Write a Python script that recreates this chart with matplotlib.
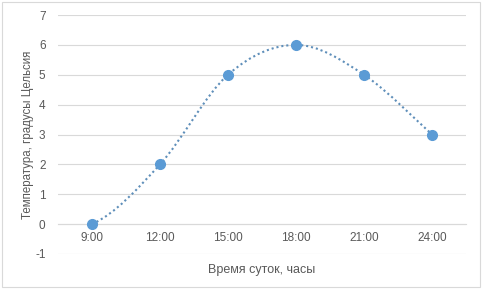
import numpy as np
import matplotlib
matplotlib.use("Agg")
import matplotlib.pyplot as plt
from matplotlib.path import Path
from matplotlib.patches import PathPatch, Rectangle

## data
hours = [9, 12, 15, 18, 21, 24]
temps = [0, 2, 5, 6, 5, 3]
hour_labels = ["9:00", "12:00", "15:00", "18:00", "21:00", "24:00"]
y_ticks = [-1, 0, 1, 2, 3, 4, 5, 6, 7]

## styles
blue = "#5b9bd5"
dot_col = "#5f8fba"
grid_col = "#d9d9d9"
txt_col = "#595959"
plt.rcParams["font.family"] = ["Liberation Sans", "DejaVu Sans"]
plt.rcParams["axes.unicode_minus"] = False


def smooth_path(xs, ys):
    # excel-like smoothed line: cubic bezier, tangents from neighbours
    p = np.column_stack([xs, ys]).astype(float)
    n = len(p)
    ghost0 = np.array([2 * p[0, 0] - p[1, 0], p[0, 1]])
    pts = np.vstack([ghost0, p, p[-1]])
    verts = [p[0]]
    codes = [Path.MOVETO]
    for i in range(1, n):
        p0, p1, p2, p3 = pts[i - 1], pts[i], pts[i + 1], pts[i + 2]
        b1 = p1 + (p2 - p0) / 6
        b2 = p2 - (p3 - p1) / 6
        verts += [b1, b2, p2]
        codes += [Path.CURVE4] * 3
    return Path(verts, codes)


fig = plt.figure(figsize=(4.83, 2.91), dpi=100)
ax = fig.add_axes([58 / 483, 1 - 254 / 291, (466 - 58) / 483, (254 - 15) / 291])

fig.patches.append(Rectangle((2 / 483, 4 / 291), 478 / 483, 285 / 291,
                             transform=fig.transFigure, fill=False,
                             edgecolor=grid_col, lw=0.8))

ax.set_xlim(7.5, 25.5)
ax.set_ylim(-1, 7)
ax.set_yticks(y_ticks)
ax.set_xticks(hours)
ax.set_xticklabels(hour_labels)

for y in y_ticks:
    ax.axhline(y, color=grid_col, lw=0.8, zorder=0)

for s in ["top", "right", "left"]:
    ax.spines[s].set_visible(False)
ax.spines["bottom"].set_position(("data", 0))
ax.spines["bottom"].set_color(grid_col)
ax.spines["bottom"].set_linewidth(0.8)

ax.tick_params(axis="both", length=0, colors=txt_col, labelsize=8.5)
ax.tick_params(axis="y", pad=9)
ax.tick_params(axis="x", pad=6)

patch = PathPatch(smooth_path(hours, temps), fill=False, edgecolor=dot_col,
                  lw=1.5, linestyle=(0, (1, 1.4)), zorder=2)
ax.add_patch(patch)
ax.plot(hours, temps, "o", color=blue, markersize=7, zorder=3)

fig.text(262 / 483, 1 - 270 / 291, "Время суток, часы", ha="center",
         va="center", color=txt_col, fontsize=9)
fig.text(28 / 483, 1 - 135 / 291, "Температура, градусы Цельсия",
         rotation=90, ha="center", va="center", color=txt_col, fontsize=8.3)

fig.savefig("out.png", dpi=100)
